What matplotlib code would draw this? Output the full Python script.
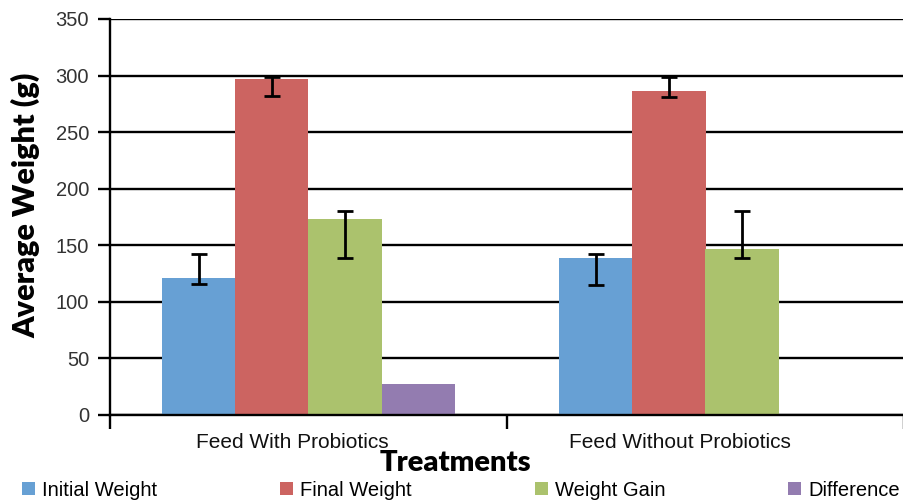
import numpy as np
import matplotlib.pyplot as plt

treatments = ['Feed With Probiotics', 'Feed Without Probiotics']
series_names = ['Initial Weight', 'Final Weight', 'Weight Gain', 'Difference']

initial_weight = [121, 139]
final_weight = [297, 286]
weight_gain = [173, 147]
difference = [27, 0]

# error bar bounds (lower, upper)
initial_lo = [116, 115]
initial_hi = [142, 142]
final_lo = [282, 281]
final_hi = [299, 299]
gain_lo = [139, 139]
gain_hi = [180, 180]

colors = ['#67a0d4', '#cc6461', '#abc26d', '#937cb0']

plt.rcParams['font.family'] = ['Liberation Sans', 'DejaVu Sans']

fig = plt.figure(figsize=(9.04, 5.04), dpi=100)
ax = fig.add_axes([110 / 904, 1 - 415 / 504, 794 / 904, 396 / 504])

x = np.arange(len(treatments))
w = 0.184
values = [initial_weight, final_weight, weight_gain, difference]
bounds = [(initial_lo, initial_hi), (final_lo, final_hi), (gain_lo, gain_hi), None]

for i, (vals, name, c) in enumerate(zip(values, series_names, colors)):
    pos = x + (i - 1.5) * w
    ax.bar(pos, vals, width=w, color=c, label=name, zorder=2)
    if bounds[i] is not None:
        lo, hi = bounds[i]
        v = np.array(vals)
        yerr = [v - np.array(lo), np.array(hi) - v]
        ax.errorbar(pos, v, yerr=yerr, fmt='none', ecolor='black',
                    elinewidth=2, capsize=6, capthick=2, zorder=3)

ax.set_ylim(0, 350)
ax.set_xlim(-0.5, 1.475)
ax.set_yticks(range(0, 351, 50))
ax.yaxis.grid(True, color='black', linewidth=1.7, zorder=1)
ax.set_axisbelow(True)

# category labels sit a little left of the bar groups in the original
ax.set_xticks(x + np.array([-0.04, -0.065]))
ax.set_xticklabels(treatments)
ax.set_xticks([-0.5, 0.5, 1.5], minor=True)
ax.tick_params(axis='x', which='major', length=0, labelsize=15, pad=13, colors='#111111')
ax.tick_params(axis='x', which='minor', length=10, width=1.7, direction='out')
ax.tick_params(axis='y', length=9, width=1.7, labelsize=14.5, labelcolor='#333333', pad=6)

for s in ['top', 'right']:
    ax.spines[s].set_visible(False)
ax.spines['left'].set_linewidth(1.7)
ax.spines['bottom'].set_linewidth(1.7)

fig.text(26 / 904, 1 - 205 / 504, 'Average Weight (g)', fontsize=22, fontweight='heavy',
         family='Lato', rotation=90, ha='center', va='center')
fig.text(455 / 904, 1 - 463 / 504, 'Treatments', fontsize=21, fontweight='heavy',
         family='Lato', ha='center', va='center')

fig.legend(loc='center', bbox_to_anchor=(461 / 904, 1 - 490 / 504), ncol=4, frameon=False,
           fontsize=14.5, handlelength=0.65, handleheight=0.65, handletextpad=0.35,
           columnspacing=6.1, borderpad=0)

fig.savefig('out.png', dpi=100)
